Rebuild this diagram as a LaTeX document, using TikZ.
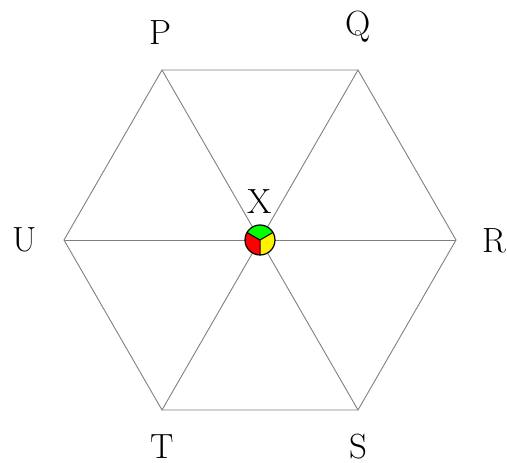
\documentclass[tikz,border=0pt]{standalone}
\begin{document}
\begin{tikzpicture}[x=1pt,y=-1pt,
  edge/.style={draw=black!50, line width=0.9pt},
  lbl/.style={font=\fontsize{35}{42}\selectfont, inner sep=0pt}]
\useasboundingbox (0,0) rectangle (507,463);
\coordinate (X) at (260,240);
\coordinate (P) at (162,70);
\coordinate (Q) at (358,70);
\coordinate (R) at (456,240);
\coordinate (S) at (358,410);
\coordinate (T) at (162,410);
\coordinate (U) at (64,240);
\draw[edge] (P) -- (Q) -- (R) -- (S) -- (T) -- (U) -- cycle;
\foreach \v in {P,Q,R,S,T,U} \draw[edge] (X) -- (\v);
% center disc
\fill[green] (X) -- ++(30:15 and -15) arc[start angle=30,end angle=150,x radius=15,y radius=-15] -- cycle;
\fill[red] (X) -- ++(150:15 and -15) arc[start angle=150,end angle=270,x radius=15,y radius=-15] -- cycle;
\fill[yellow] (X) -- ++(270:15 and -15) arc[start angle=270,end angle=390,x radius=15,y radius=-15] -- cycle;
\draw[line width=1pt] (X) -- ++(30:15 and -15) (X) -- ++(150:15 and -15) (X) -- ++(270:15 and -15);
\draw[line width=1.2pt] (X) circle[radius=15];
\node[lbl] (lP) at (160,33) {P};
\node[lbl] (lQ) at (358,27) {Q};
\node[lbl] (lR) at (494,241) {R};
\node[lbl] (lS) at (358,447) {S};
\node[lbl] (lT) at (162,447) {T};
\node[lbl] (lU) at (25,240) {U};
\node[lbl] (lX) at (260,202) {X};
\end{tikzpicture}
\end{document}
